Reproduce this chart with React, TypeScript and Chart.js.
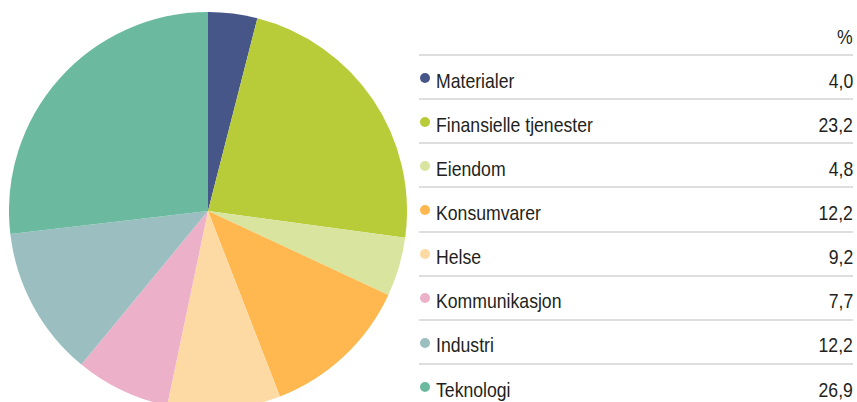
import React, { useEffect, useRef } from "react";
import { Chart, registerables } from "chart.js";

Chart.register(...registerables);

const categories: string[] = [
  "Materialer",
  "Finansielle tjenester",
  "Eiendom",
  "Konsumvarer",
  "Helse",
  "Kommunikasjon",
  "Industri",
  "Teknologi",
];

const shares: number[] = [4.0, 23.2, 4.8, 12.2, 9.2, 7.7, 12.2, 26.9];

const sliceColors: string[] = [
  "#475688",
  "#B8CC3A",
  "#D9E49E",
  "#FFB84F",
  "#FDDAA3",
  "#ECB1C8",
  "#9BBFC0",
  "#6BBAA0",
];

const unitLabel = "%";

const FONT = "'Liberation Sans', Arial, sans-serif";
const SQUEEZE = 0.84;

export default function App() {
  const canvasRef = useRef<HTMLCanvasElement | null>(null);

  useEffect(() => {
    if (!canvasRef.current) return;
    const chart = new Chart(canvasRef.current, {
      type: "pie",
      data: {
        labels: categories,
        datasets: [
          {
            data: shares,
            backgroundColor: sliceColors,
            borderWidth: 0,
            hoverOffset: 0,
            offset: 0,
          },
        ],
      },
      options: {
        responsive: false,
        maintainAspectRatio: false,
        animation: false,
        layout: { padding: 0 },
        plugins: {
          legend: { display: false },
          tooltip: { enabled: false },
          title: { display: false },
        },
      },
    });
    return () => chart.destroy();
  }, []);

  const rowStep = 44.15;
  const firstLine = 54;
  const firstBaseline = 87.3;
  const baselineOffset = 17.8;

  const textBase: React.CSSProperties = {
    position: "absolute",
    fontSize: 21,
    lineHeight: "21px",
    whiteSpace: "nowrap",
  };

  return (
    <div
      style={{
        position: "fixed",
        left: 0,
        top: 0,
        width: 857,
        height: 402,
        overflow: "hidden",
        background: "#ffffff",
        fontFamily: FONT,
        color: "#231f20",
      }}
    >
      <canvas
        ref={canvasRef}
        width={398}
        height={398}
        style={{ position: "absolute", left: 9, top: 12, width: 398, height: 398 }}
      />
      <div
        style={{
          ...textBase,
          right: 4,
          top: 44 - baselineOffset,
          transform: `scaleX(${SQUEEZE})`,
          transformOrigin: "right center",
        }}
      >
        {unitLabel}
      </div>
      {categories.map((_, k) => (
        <div
          key={"line" + k}
          style={{
            position: "absolute",
            left: 419,
            width: 434,
            top: firstLine + rowStep * k,
            height: 2,
            background: "#dedede",
          }}
        />
      ))}
      {categories.map((name, i) => {
        const baseline = firstBaseline + rowStep * i;
        return (
          <React.Fragment key={name}>
            <div
              style={{
                position: "absolute",
                left: 419.5,
                top: baseline - 9.6 - 5,
                width: 10,
                height: 10,
                borderRadius: "50%",
                background: sliceColors[i],
              }}
            />
            <div
              style={{
                ...textBase,
                left: 436,
                top: baseline - baselineOffset,
                transform: `scaleX(${SQUEEZE})`,
                transformOrigin: "left center",
              }}
            >
              {name}
            </div>
            <div
              style={{
                ...textBase,
                right: 4,
                top: baseline - baselineOffset,
                textAlign: "right",
                transform: `scaleX(${SQUEEZE})`,
                transformOrigin: "right center",
              }}
            >
              {shares[i].toFixed(1).replace(".", ",")}
            </div>
          </React.Fragment>
        );
      })}
    </div>
  );
}
